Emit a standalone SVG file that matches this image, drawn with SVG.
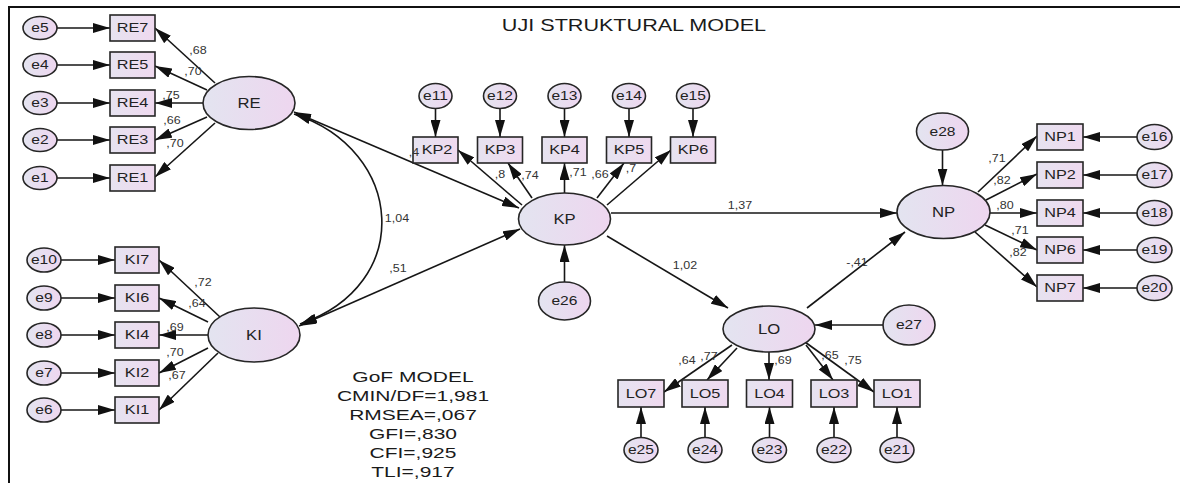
<svg xmlns="http://www.w3.org/2000/svg" width="1180" height="483" viewBox="0 0 1180 483">
  <style>
    .t { font-family: "Liberation Sans", Arial, sans-serif; text-anchor: middle; fill: #222222; transform-box: fill-box; transform-origin: center; transform: scaleX(1.3); }
    .obs { font-size: 12.5px; }
    .err { font-size: 12px; }
    .lat { font-size: 14.5px; transform: scaleX(1.15); }
    .lbl { font-size: 10px; fill: #333333; transform: scaleX(1.25); }
    .title { font-size: 17px; fill: #1a1a1a; transform: scaleX(1.27); }
    .gof { font-size: 15px; fill: #1a1a1a; transform: scaleX(1.4); }
    .box { fill: url(#gBox); stroke: #262626; stroke-width: 1.6; }
    .ell { fill: url(#gEll); stroke: #262626; stroke-width: 1.6; }
    .cn { stroke: #161616; stroke-width: 1.6; fill: none; }
    .one { marker-end: url(#ah); }
    .two { marker-start: url(#ah); marker-end: url(#ah); }
  </style>
  <defs>
    <linearGradient id="gBox" x1="0" y1="0" x2="1" y2="0">
      <stop offset="0" stop-color="#e6e3f0"/>
      <stop offset="1" stop-color="#efd9ef"/>
    </linearGradient>
    <linearGradient id="gEll" x1="0" y1="0" x2="1" y2="0">
      <stop offset="0" stop-color="#e3e4f0"/>
      <stop offset="1" stop-color="#eed6ef"/>
    </linearGradient>
    <marker id="ah" viewBox="0 0 17 10" refX="17" refY="5" markerWidth="17" markerHeight="10" orient="auto-start-reverse" markerUnits="userSpaceOnUse">
      <path d="M0,0 L17,5 L0,10 z" fill="#111"/>
    </marker>
  </defs>

  <rect width="1180" height="483" fill="#ffffff"/>
  <!-- page frame -->
  <path d="M9,483 V7 H1180" fill="none" stroke="#111" stroke-width="2"/>

  <text class="t title" x="634" y="31">UJI STRUKTURAL MODEL</text>

  <!-- connectors -->
  <g id="connectors">
    <!-- RE indicators -->
    <line class="cn one" x1="57" y1="28" x2="110" y2="28"/>
    <line class="cn one" x1="57" y1="65" x2="110" y2="65"/>
    <line class="cn one" x1="57" y1="103" x2="110" y2="103"/>
    <line class="cn one" x1="57" y1="140" x2="110" y2="140"/>
    <line class="cn one" x1="57" y1="178" x2="110" y2="178"/>
    <line class="cn one" x1="215" y1="83" x2="155" y2="28"/>
    <line class="cn one" x1="207" y1="90" x2="155" y2="66"/>
    <line class="cn one" x1="203" y1="103" x2="155" y2="103"/>
    <line class="cn one" x1="207" y1="117" x2="155" y2="140"/>
    <line class="cn one" x1="215" y1="123" x2="155" y2="177"/>
    <!-- KI indicators -->
    <line class="cn one" x1="61" y1="260" x2="115" y2="260"/>
    <line class="cn one" x1="61" y1="298" x2="115" y2="298"/>
    <line class="cn one" x1="61" y1="335" x2="115" y2="335"/>
    <line class="cn one" x1="61" y1="373" x2="115" y2="373"/>
    <line class="cn one" x1="61" y1="410" x2="115" y2="410"/>
    <line class="cn one" x1="220" y1="317" x2="159" y2="260"/>
    <line class="cn one" x1="208" y1="322" x2="159" y2="298"/>
    <line class="cn one" x1="208" y1="335" x2="159" y2="335"/>
    <line class="cn one" x1="208" y1="348" x2="159" y2="373"/>
    <line class="cn one" x1="218" y1="353" x2="159" y2="410"/>
    <!-- KP indicators -->
    <line class="cn one" x1="435.5" y1="108.5" x2="435.5" y2="137"/>
    <line class="cn one" x1="500" y1="108.5" x2="500" y2="137"/>
    <line class="cn one" x1="564.5" y1="108.5" x2="564.5" y2="137"/>
    <line class="cn one" x1="629" y1="108.5" x2="629" y2="137"/>
    <line class="cn one" x1="693" y1="108.5" x2="693" y2="137"/>
    <line class="cn one" x1="522" y1="205" x2="458" y2="150"/>
    <line class="cn one" x1="532" y1="198" x2="508" y2="163"/>
    <line class="cn one" x1="564.5" y1="193" x2="564.5" y2="163"/>
    <line class="cn one" x1="597" y1="198" x2="624" y2="163"/>
    <line class="cn one" x1="607" y1="205" x2="671" y2="150"/>
    <line class="cn one" x1="564.5" y1="282" x2="564.5" y2="245"/>
    <!-- NP indicators -->
    <line class="cn one" x1="1137" y1="137" x2="1083" y2="137"/>
    <line class="cn one" x1="1137" y1="175" x2="1083" y2="175"/>
    <line class="cn one" x1="1137" y1="213" x2="1083" y2="213"/>
    <line class="cn one" x1="1137" y1="250" x2="1083" y2="250"/>
    <line class="cn one" x1="1137" y1="288" x2="1083" y2="288"/>
    <line class="cn one" x1="978" y1="192" x2="1037" y2="136"/>
    <line class="cn one" x1="986" y1="200" x2="1037" y2="174"/>
    <line class="cn one" x1="990" y1="213" x2="1037" y2="213"/>
    <line class="cn one" x1="985" y1="225" x2="1037" y2="250"/>
    <line class="cn one" x1="975" y1="232" x2="1037" y2="287"/>
    <line class="cn one" x1="942.5" y1="150" x2="942.5" y2="185.5"/>
    <!-- LO indicators -->
    <line class="cn one" x1="641" y1="437.5" x2="641" y2="407"/>
    <line class="cn one" x1="705" y1="437.5" x2="705" y2="407"/>
    <line class="cn one" x1="769.5" y1="437.5" x2="769.5" y2="407"/>
    <line class="cn one" x1="834" y1="437.5" x2="834" y2="407"/>
    <line class="cn one" x1="897" y1="437.5" x2="897" y2="407"/>
    <line class="cn one" x1="732" y1="345" x2="664" y2="392"/>
    <line class="cn one" x1="737" y1="348" x2="707" y2="380"/>
    <line class="cn one" x1="769" y1="352" x2="769" y2="380"/>
    <line class="cn one" x1="806" y1="345" x2="833" y2="380"/>
    <line class="cn one" x1="805" y1="342" x2="874" y2="392"/>
    <line class="cn one" x1="883" y1="325" x2="815" y2="325"/>
    <!-- structural paths -->
    <line class="cn two" x1="294" y1="112" x2="519" y2="208"/>
    <line class="cn two" x1="299" y1="326" x2="520" y2="229"/>
    <path class="cn two" d="M294,114 C405,150 415,285 300,324"/>
    <line class="cn one" x1="611" y1="213" x2="897" y2="213"/>
    <line class="cn one" x1="607" y1="236" x2="728" y2="308"/>
    <line class="cn one" x1="807" y1="308" x2="905" y2="232"/>
  </g>

  <!-- latent variables -->
  <g id="RE"><ellipse class="ell" cx="249" cy="103" rx="46" ry="26.5"/><text class="t lat" x="249" y="108">RE</text></g>
  <g id="KI"><ellipse class="ell" cx="254" cy="335" rx="46" ry="27"/><text class="t lat" x="254" y="340">KI</text></g>
  <g id="KP"><ellipse class="ell" cx="564.5" cy="219" rx="46" ry="26"/><text class="t lat" x="564.5" y="224">KP</text></g>
  <g id="NP"><ellipse class="ell" cx="943.5" cy="212" rx="46.5" ry="26.5"/><text class="t lat" x="943.5" y="217">NP</text></g>
  <g id="LO"><ellipse class="ell" cx="769" cy="329" rx="46" ry="23"/><text class="t lat" x="769" y="334">LO</text></g>
  <g id="e26"><ellipse class="ell" cx="564.5" cy="301" rx="26" ry="19"/><text class="t err" x="564.5" y="305.5">e26</text></g>
  <g id="e27"><ellipse class="ell" cx="909" cy="325" rx="26" ry="20"/><text class="t err" x="909" y="329.5">e27</text></g>
  <g id="e28"><ellipse class="ell" cx="942.5" cy="131.5" rx="26" ry="18.5"/><text class="t err" x="942.5" y="136">e28</text></g>

  <!-- RE block -->
  <g id="e5"><ellipse class="ell" cx="40" cy="28" rx="17" ry="11.5"/><text class="t err" x="40" y="32.5">e5</text></g>
  <g id="e4"><ellipse class="ell" cx="40" cy="65" rx="17" ry="11.5"/><text class="t err" x="40" y="69.5">e4</text></g>
  <g id="e3"><ellipse class="ell" cx="40" cy="103" rx="17" ry="11.5"/><text class="t err" x="40" y="107.5">e3</text></g>
  <g id="e2"><ellipse class="ell" cx="40" cy="140" rx="17" ry="11.5"/><text class="t err" x="40" y="144.5">e2</text></g>
  <g id="e1"><ellipse class="ell" cx="40" cy="178" rx="17" ry="11.5"/><text class="t err" x="40" y="182.5">e1</text></g>
  <g id="RE7"><rect class="box" x="110" y="15" width="45" height="26"/><text class="t obs" x="132.5" y="32.5">RE7</text></g>
  <g id="RE5"><rect class="box" x="110" y="52" width="45" height="26"/><text class="t obs" x="132.5" y="69.5">RE5</text></g>
  <g id="RE4"><rect class="box" x="110" y="90" width="45" height="26"/><text class="t obs" x="132.5" y="107.5">RE4</text></g>
  <g id="RE3"><rect class="box" x="110" y="127" width="45" height="26"/><text class="t obs" x="132.5" y="144.5">RE3</text></g>
  <g id="RE1"><rect class="box" x="110" y="165" width="45" height="26"/><text class="t obs" x="132.5" y="182.5">RE1</text></g>

  <!-- KI block -->
  <g id="e10"><ellipse class="ell" cx="44" cy="260" rx="17" ry="12"/><text class="t err" x="44" y="264.5">e10</text></g>
  <g id="e9"><ellipse class="ell" cx="44" cy="298" rx="17" ry="12"/><text class="t err" x="44" y="302.5">e9</text></g>
  <g id="e8"><ellipse class="ell" cx="44" cy="335" rx="17" ry="12"/><text class="t err" x="44" y="339.5">e8</text></g>
  <g id="e7"><ellipse class="ell" cx="44" cy="373" rx="17" ry="12"/><text class="t err" x="44" y="377.5">e7</text></g>
  <g id="e6"><ellipse class="ell" cx="44" cy="410" rx="17" ry="12"/><text class="t err" x="44" y="414.5">e6</text></g>
  <g id="KI7"><rect class="box" x="115" y="247" width="44" height="26"/><text class="t obs" x="137" y="264.5">KI7</text></g>
  <g id="KI6"><rect class="box" x="115" y="285" width="44" height="26"/><text class="t obs" x="137" y="302.5">KI6</text></g>
  <g id="KI4"><rect class="box" x="115" y="322" width="44" height="26"/><text class="t obs" x="137" y="339.5">KI4</text></g>
  <g id="KI2"><rect class="box" x="115" y="360" width="44" height="26"/><text class="t obs" x="137" y="377.5">KI2</text></g>
  <g id="KI1"><rect class="box" x="115" y="397" width="44" height="26"/><text class="t obs" x="137" y="414.5">KI1</text></g>

  <!-- KP block -->
  <g id="e11"><ellipse class="ell" cx="435.5" cy="96" rx="16.5" ry="12.5"/><text class="t err" x="435.5" y="100.5">e11</text></g>
  <g id="e12"><ellipse class="ell" cx="500" cy="96" rx="16.5" ry="12.5"/><text class="t err" x="500" y="100.5">e12</text></g>
  <g id="e13"><ellipse class="ell" cx="564.5" cy="96" rx="16.5" ry="12.5"/><text class="t err" x="564.5" y="100.5">e13</text></g>
  <g id="e14"><ellipse class="ell" cx="629" cy="96" rx="16.5" ry="12.5"/><text class="t err" x="629" y="100.5">e14</text></g>
  <g id="e15"><ellipse class="ell" cx="693" cy="96" rx="16.5" ry="12.5"/><text class="t err" x="693" y="100.5">e15</text></g>
  <g id="KP2"><rect class="box" x="413" y="137" width="45" height="26"/><text class="t obs" x="437" y="154.5">KP2</text></g>
  <g id="KP3"><rect class="box" x="477.5" y="137" width="45" height="26"/><text class="t obs" x="500" y="154.5">KP3</text></g>
  <g id="KP4"><rect class="box" x="542" y="137" width="45" height="26"/><text class="t obs" x="564.5" y="154.5">KP4</text></g>
  <g id="KP5"><rect class="box" x="606.5" y="137" width="45" height="26"/><text class="t obs" x="629" y="154.5">KP5</text></g>
  <g id="KP6"><rect class="box" x="670.5" y="137" width="45" height="26"/><text class="t obs" x="693" y="154.5">KP6</text></g>

  <!-- NP block -->
  <g id="NP1"><rect class="box" x="1037" y="124" width="46" height="26"/><text class="t obs" x="1060" y="141.5">NP1</text></g>
  <g id="NP2"><rect class="box" x="1037" y="162" width="46" height="26"/><text class="t obs" x="1060" y="179.5">NP2</text></g>
  <g id="NP4"><rect class="box" x="1037" y="200" width="46" height="26"/><text class="t obs" x="1060" y="217.5">NP4</text></g>
  <g id="NP6"><rect class="box" x="1037" y="237" width="46" height="26"/><text class="t obs" x="1060" y="254.5">NP6</text></g>
  <g id="NP7"><rect class="box" x="1037" y="275" width="46" height="26"/><text class="t obs" x="1060" y="292.5">NP7</text></g>
  <g id="e16"><ellipse class="ell" cx="1154.5" cy="137" rx="17.5" ry="12.5"/><text class="t err" x="1154.5" y="141.5">e16</text></g>
  <g id="e17"><ellipse class="ell" cx="1154.5" cy="175" rx="17.5" ry="12.5"/><text class="t err" x="1154.5" y="179.5">e17</text></g>
  <g id="e18"><ellipse class="ell" cx="1154.5" cy="213" rx="17.5" ry="12.5"/><text class="t err" x="1154.5" y="217.5">e18</text></g>
  <g id="e19"><ellipse class="ell" cx="1154.5" cy="250" rx="17.5" ry="12.5"/><text class="t err" x="1154.5" y="254.5">e19</text></g>
  <g id="e20"><ellipse class="ell" cx="1154.5" cy="288" rx="17.5" ry="12.5"/><text class="t err" x="1154.5" y="292.5">e20</text></g>

  <!-- LO block -->
  <g id="LO7"><rect class="box" x="618" y="380" width="46" height="27"/><text class="t obs" x="641" y="398">LO7</text></g>
  <g id="LO5"><rect class="box" x="682" y="380" width="46" height="27"/><text class="t obs" x="705" y="398">LO5</text></g>
  <g id="LO4"><rect class="box" x="746.5" y="380" width="46" height="27"/><text class="t obs" x="769.5" y="398">LO4</text></g>
  <g id="LO3"><rect class="box" x="811" y="380" width="46" height="27"/><text class="t obs" x="834" y="398">LO3</text></g>
  <g id="LO1"><rect class="box" x="874" y="380" width="46" height="27"/><text class="t obs" x="897" y="398">LO1</text></g>
  <g id="e25"><ellipse class="ell" cx="641" cy="450" rx="17" ry="12.5"/><text class="t err" x="641" y="454.5">e25</text></g>
  <g id="e24"><ellipse class="ell" cx="705" cy="450" rx="17" ry="12.5"/><text class="t err" x="705" y="454.5">e24</text></g>
  <g id="e23"><ellipse class="ell" cx="769.5" cy="450" rx="17" ry="12.5"/><text class="t err" x="769.5" y="454.5">e23</text></g>
  <g id="e22"><ellipse class="ell" cx="834" cy="450" rx="17" ry="12.5"/><text class="t err" x="834" y="454.5">e22</text></g>
  <g id="e21"><ellipse class="ell" cx="897" cy="450" rx="17" ry="12.5"/><text class="t err" x="897" y="454.5">e21</text></g>

  <!-- path coefficients -->
  <g id="coefficients">
    <text class="t lbl" x="198" y="54">,68</text>
    <text class="t lbl" x="193" y="75">,70</text>
    <text class="t lbl" x="171" y="99">,75</text>
    <text class="t lbl" x="172" y="124">,66</text>
    <text class="t lbl" x="175" y="147">,70</text>
    <text class="t lbl" x="203" y="286">,72</text>
    <text class="t lbl" x="197" y="307">,64</text>
    <text class="t lbl" x="175" y="331">,69</text>
    <text class="t lbl" x="175" y="356">,70</text>
    <text class="t lbl" x="177" y="379">,67</text>
    <text class="t lbl" x="414" y="156">,4</text>
    <text class="t lbl" x="500" y="178">,8</text>
    <text class="t lbl" x="530" y="179">,74</text>
    <text class="t lbl" x="578" y="176">,71</text>
    <text class="t lbl" x="600" y="178">,66</text>
    <text class="t lbl" x="631" y="172">,7</text>
    <text class="t lbl" x="997" y="162">,71</text>
    <text class="t lbl" x="1002" y="184">,82</text>
    <text class="t lbl" x="1005" y="209">,80</text>
    <text class="t lbl" x="1020" y="234">,71</text>
    <text class="t lbl" x="1018" y="256">,82</text>
    <text class="t lbl" x="687" y="364">,64</text>
    <text class="t lbl" x="709" y="360">,77</text>
    <text class="t lbl" x="783" y="364">,69</text>
    <text class="t lbl" x="830" y="359">,65</text>
    <text class="t lbl" x="853" y="364">,75</text>
    <text class="t lbl" x="397" y="222">1,04</text>
    <text class="t lbl" x="398" y="272">,51</text>
    <text class="t lbl" x="740" y="209">1,37</text>
    <text class="t lbl" x="685" y="269">1,02</text>
    <text class="t lbl" x="857" y="266">-,41</text>
  </g>

  <!-- fit summary -->
  <g id="gof">
    <text class="t gof" x="413" y="382">GoF MODEL</text>
    <text class="t gof" x="413" y="401">CMIN/DF=1,981</text>
    <text class="t gof" x="413" y="420">RMSEA=,067</text>
    <text class="t gof" x="413" y="439">GFI=,830</text>
    <text class="t gof" x="413" y="458">CFI=,925</text>
    <text class="t gof" x="413" y="477">TLI=,917</text>
  </g>
</svg>
